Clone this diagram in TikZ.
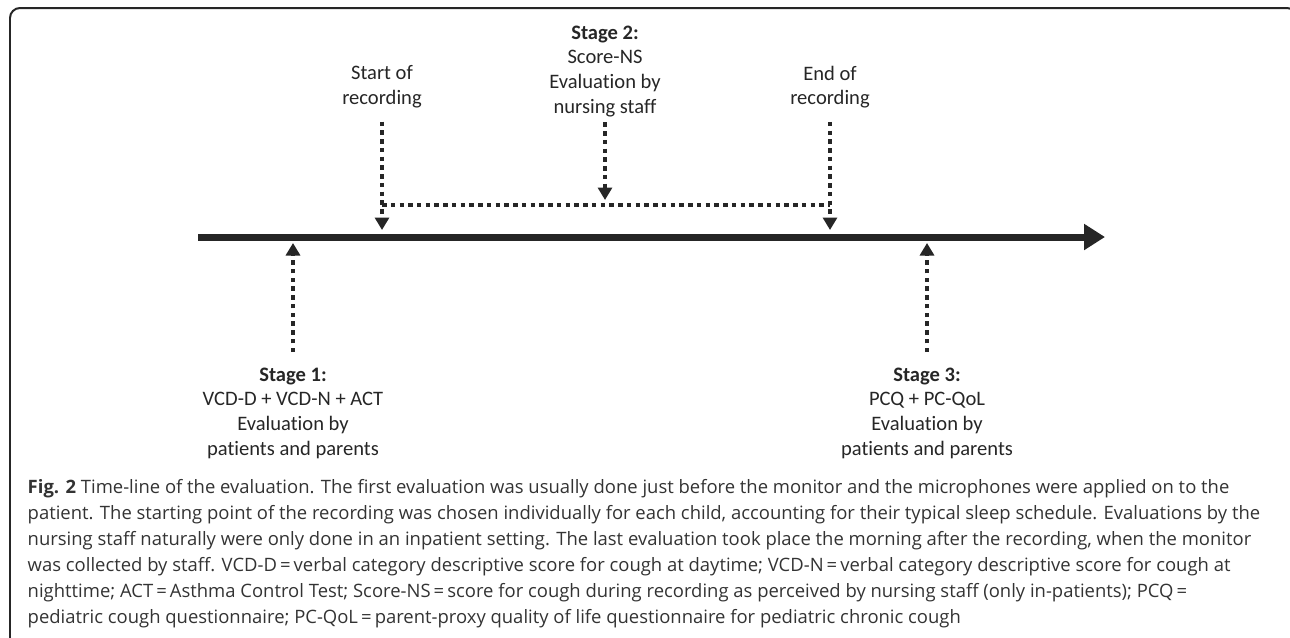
\documentclass[tikz,border=0pt]{standalone}
\usepackage{fontspec}
\setmainfont{Carlito}[Ligatures=CommonOff]
\newfontfamily\piefont{Open Sans}
\usetikzlibrary{arrows.meta}

\begin{document}
\begin{tikzpicture}[x=0.02cm,y=-0.02cm,line width=0.85pt,
  etiqueta/.style={align=center,inner sep=0pt,text=black!85,font=\fontsize{11.7}{14}\selectfont},
  punteada/.style={line width=0.08cm,black!85,dash pattern=on 0.09cm off 0.085cm},
  flecha/.style={punteada,-{Triangle[length=0.25cm,width=0.28cm]}},
  eje/.style={line width=0.14cm,black!85,-{Triangle[length=0.42cm,width=0.5cm]}}]
  \clip (0,0) rectangle (1290,637);
  % marco
  \draw[line width=0.04cm,black!85,rounded corners=0.2cm] (10,8) rectangle (1297,648);
  % eje del tiempo
  \coordinate (eje0) at (198,237);
  \coordinate (eje1) at (1105,237);
  \draw[eje] (eje0) -- (eje1);
  % etiquetas
  \node[etiqueta,anchor=north] (inicio) at (382,65) {Start of\\recording};
  \node[etiqueta,anchor=north] (fin) at (830,65) {End of\\recording};
  \node[etiqueta,anchor=north] (etapa2) at (605,25) {\textbf{Stage 2:}\\Score-NS\\Evaluation by\\nursing staff};
  \node[etiqueta,anchor=north] (etapa1) at (293,367) {\textbf{Stage 1:}\\VCD-D + VCD-N + ACT\\Evaluation by\\patients and parents};
  \node[etiqueta,anchor=north] (etapa3) at (927,367) {\textbf{Stage 3:}\\PCQ + PC-QoL\\Evaluation by\\patients and parents};
  % puntas sobre el eje
  \coordinate (t1) at (293,243);
  \coordinate (t3) at (927,243);
  \coordinate (ti) at (382,230);
  \coordinate (tf) at (830,230);
  \coordinate (t2) at (605,200);
  \coordinate (h1) at (382,205);
  \coordinate (h2) at (830,205);
  \draw[punteada] (h1) -- (h2);
  \draw[flecha,shorten <=0.26cm] (inicio.south) -- (ti);
  \draw[flecha,shorten <=0.26cm] (fin.south) -- (tf);
  \draw[flecha,shorten <=0.1cm] (etapa2.south) -- (t2);
  \draw[flecha,shorten <=0.3cm] (etapa1.north) -- (t1);
  \draw[flecha,shorten <=0.3cm] (etapa3.north) -- (t3);
  % pie de figura
  \node[anchor=north west,align=left,inner sep=0pt,text=black!80,font=\piefont\fontsize{10.5}{14.74}\selectfont] (pie) at (27,479)
    {\textbf{Fig. 2} Time-line of the evaluation. The first evaluation was usually done just before the monitor and the microphones were applied on to the\\
     patient. The starting point of the recording was chosen individually for each child, accounting for their typical sleep schedule. Evaluations by the\\
     nursing staff naturally were only done in an inpatient setting. The last evaluation took place the morning after the recording, when the monitor\\
     was collected by staff. VCD-D\,=\,verbal category descriptive score for cough at daytime; VCD-N\,=\,verbal category descriptive score for cough at\\
     nighttime; ACT\,=\,Asthma Control Test; Score-NS\,=\,score for cough during recording as perceived by nursing staff (only in-patients); PCQ\,=\\
     pediatric cough questionnaire; PC-QoL\,=\,parent-proxy quality of life questionnaire for pediatric chronic cough};
\end{tikzpicture}
\end{document}
